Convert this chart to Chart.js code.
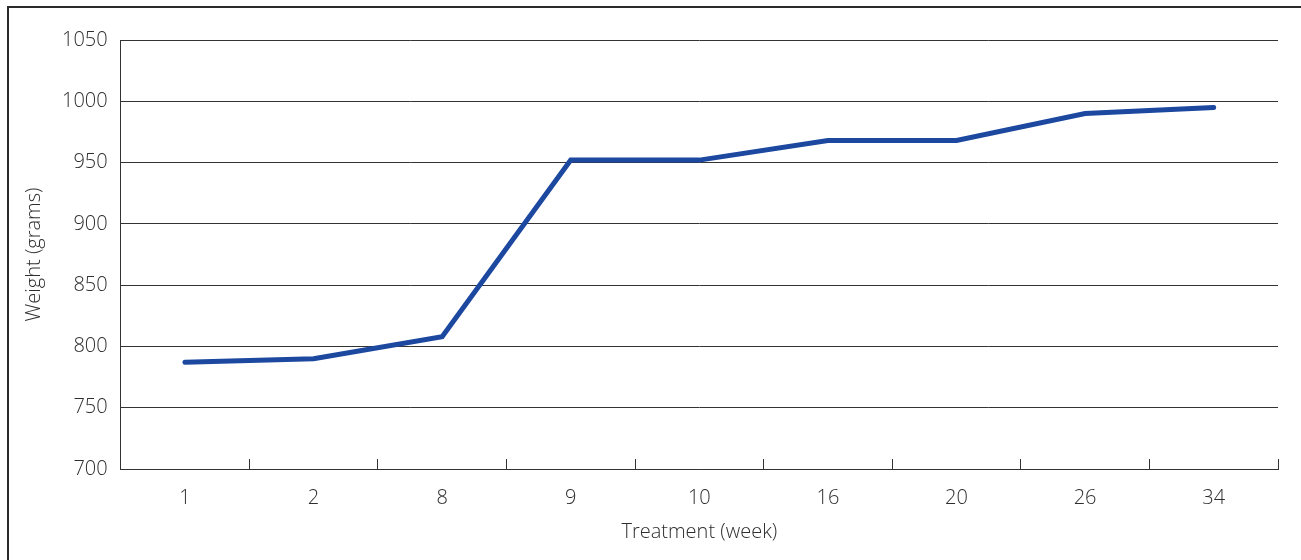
<!DOCTYPE html>
<html>
<head>
<meta charset="utf-8">
<script src="https://cdn.jsdelivr.net/npm/chart.js@4.4.1/dist/chart.umd.min.js"></script>
<style>
  body { margin: 0; background: #fff; }
  #wrap { position: relative; width: 1301px; height: 560px; }
  #frame { position: absolute; left: 7px; top: 6px; width: 1300px; height: 600px; border: 2px solid #2b2b2b; box-sizing: border-box; pointer-events: none; }
</style>
</head>
<body>
<div id="wrap">
  <canvas id="weightChart" width="1301" height="560"></canvas>
  <div id="frame"></div>
</div>
<script>
// ---------------- Data ----------------
const weeks = ["1", "2", "8", "9", "10", "16", "20", "26", "34"];
const weights = [787, 790, 808, 952, 952, 968, 968, 990, 995];
const yMin = 700, yMax = 1050, yStep = 50;

const textColor = "#2e2e2e";
const fontFamily = "'Open Sans', 'Noto Sans', sans-serif";
const labelFont = { family: fontFamily, size: 20, weight: 300 };

const ctx = document.getElementById("weightChart").getContext("2d");
new Chart(ctx, {
  type: "line",
  data: {
    labels: weeks,
    datasets: [{
      label: "Weight",
      data: weights,
      borderColor: "#1c489f",
      borderWidth: 5,
      borderCapStyle: "round",
      borderJoinStyle: "miter",
      pointRadius: 0,
      tension: 0,
      fill: false
    }]
  },
  options: {
    responsive: false,
    animation: false,
    layout: { padding: { left: 18, right: 23, top: 40, bottom: 15 } },
    plugins: { legend: { display: false }, tooltip: { enabled: false } },
    scales: {
      x: {
        offset: true,
        grid: {
          offset: true,
          drawOnChartArea: false,
          drawTicks: true,
          tickLength: -10,
          color: "#333333",
          lineWidth: 1
        },
        border: { display: true, color: "#333333", width: 1 },
        ticks: { color: textColor, font: labelFont, padding: 27 },
        title: { display: true, text: "Treatment (week)", color: textColor, font: labelFont, padding: { top: -17, bottom: 1 } }
      },
      y: {
        min: yMin,
        max: yMax,
        grid: { color: "#333333", lineWidth: 1, drawTicks: false },
        border: { display: true, color: "#333333", width: 1 },
        ticks: {
          stepSize: yStep,
          color: textColor,
          font: labelFont,
          padding: 13,
          callback: v => String(v)
        },
        title: { display: true, text: "Weight (grams)", color: textColor, font: labelFont, padding: { bottom: 3 } }
      }
    }
  }
});
</script>
</body>
</html>
